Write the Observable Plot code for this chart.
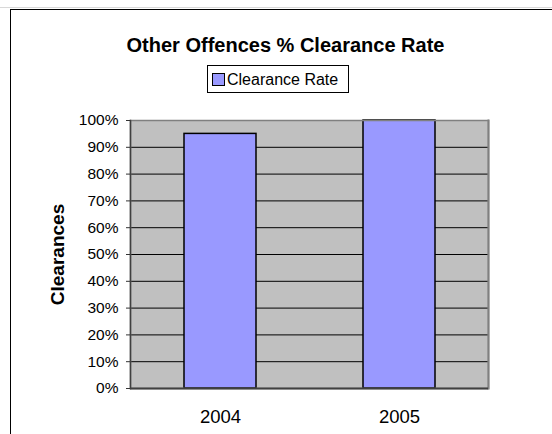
<!DOCTYPE html>
<html>
<head>
<meta charset="utf-8">
<script src="https://cdn.jsdelivr.net/npm/d3@7"></script>
<script src="https://cdn.jsdelivr.net/npm/@observablehq/plot@0.6"></script>
<style>
  html, body { margin: 0; padding: 0; background: white; }
  body { width: 552px; height: 434px; position: relative; overflow: hidden; font-family: "Liberation Sans", Arial, sans-serif; }
  #border { position: absolute; left: 10px; top: 9px; right: -5px; bottom: -5px; border-left: 1px solid #000; border-top: 1px solid #000; z-index: 3; pointer-events: none; }
  #topline { position: absolute; left: 0; right: 0; top: 7px; height: 1px; background: #d8d8d8; }
  #title { position: absolute; left: 0; width: 571px; top: 33px; height: 24px; line-height: 24px; text-align: center; font-size: 20px; font-weight: bold; white-space: nowrap; }
  #legend { position: absolute; left: 207px; top: 65px; width: 142px; height: 28px; box-sizing: border-box; border: 1px solid #000; background: white; }
  #swatch { position: absolute; left: 212px; top: 73px; width: 13px; height: 13px; box-sizing: border-box; border: 1.5px solid #000; background: #9999FF; }
  #legtext { position: absolute; left: 227px; top: 69.5px; height: 20px; line-height: 20px; font-size: 16px; white-space: nowrap; }
  #chart { position: absolute; left: 0; top: 100px; }
</style>
</head>
<body>
<div id="topline"></div>
<div id="title"></div>
<div id="legend"></div>
<div id="swatch"></div>
<div id="legtext"></div>
<div id="chart"></div>
<div id="border"></div>
<script>
// Data
const titleText = "Other Offences % Clearance Rate";
const seriesName = "Clearance Rate";
const axisLabel = "Clearances";
const years = ["2004", "2005"];
const rates = [0.95, 1.0];
const yTicks = [0, 0.1, 0.2, 0.3, 0.4, 0.5, 0.6, 0.7, 0.8, 0.9, 1.0];

const data = years.map((year, i) => ({year, rate: rates[i]}));
const gridTicks = yTicks.filter(t => t > 0 && t < 1);

document.getElementById("title").textContent = titleText;
document.getElementById("legtext").textContent = seriesName;

const chart = Plot.plot({
  width: 552,
  height: 334,
  marginTop: 20,
  marginBottom: 46,
  marginLeft: 130,
  marginRight: 64,
  style: {background: "transparent", fontFamily: "'Liberation Sans', Arial, sans-serif", color: "black", overflow: "visible"},
  x: {domain: years, paddingInner: 0.6, paddingOuter: 0.3, axis: null, label: null},
  y: {domain: [0, 1], axis: null, label: null},
  marks: [
    Plot.frame({fill: "#C0C0C0"}),
    Plot.ruleY(gridTicks, {stroke: "#000", strokeWidth: 1}),
    Plot.barY(data, {x: "year", y: "rate", fill: "#9999FF", stroke: "#000", strokeWidth: 1.5}),
    Plot.frame({stroke: "#808080", strokeWidth: 1.5}),
    Plot.frame({anchor: "right", stroke: "#808080", strokeWidth: 2}),
    Plot.frame({anchor: "left", stroke: "#404040", strokeWidth: 1.5}),
    Plot.ruleY([0], {stroke: "#404040", strokeWidth: 2}),
    Plot.axisY({ticks: yTicks, tickFormat: d3.format(".0%"), tickSize: 4, tickPadding: 8, fontSize: 15.5, stroke: "#333", label: null}),
    Plot.axisX({tickSize: 0, tickPadding: 21, fontSize: 18.5, label: null}),
    Plot.text([axisLabel], {text: d => d, frameAnchor: "left", textAnchor: "middle", dx: -73, rotate: -90, fontWeight: "bold", fontSize: 19})
  ]
});
document.getElementById("chart").appendChild(chart);
</script>
</body>
</html>
